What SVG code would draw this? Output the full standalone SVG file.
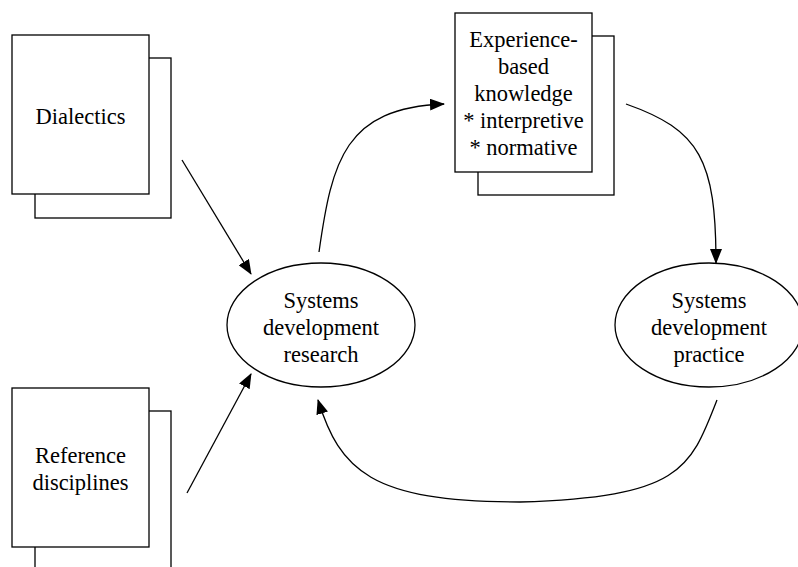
<svg xmlns="http://www.w3.org/2000/svg" width="798" height="567" viewBox="0 0 798 567">
<defs>
<style>
.box{fill:#fff;stroke:#000;stroke-width:1.3}
.ell{fill:#fff;stroke:#000;stroke-width:1.3}
.t{font-family:"Liberation Serif","Times New Roman",serif;font-size:22.5px;fill:#000;text-anchor:middle}
.c{fill:none;stroke:#000;stroke-width:1.3}
</style>
<marker id="ah" viewBox="0 0 15 12" markerWidth="15" markerHeight="12" refX="14" refY="6" orient="auto" markerUnits="userSpaceOnUse">
<path d="M0,0 L15,6 L0,12 z" fill="#000"/>
</marker>
</defs>
<rect width="798" height="567" fill="#fff"/>
<g id="dialectics">
<rect class="box" x="35" y="58" width="136" height="160"/>
<rect class="box" x="12" y="35" width="137" height="159"/>
<text class="t" x="80.5" y="124">Dialectics</text>
</g>
<g id="reference">
<rect class="box" x="35" y="411" width="136" height="170"/>
<rect class="box" x="12" y="388" width="137" height="159"/>
<text class="t" x="80.5" y="463">Reference</text>
<text class="t" x="80.5" y="490">disciplines</text>
</g>
<g id="experience">
<rect class="box" x="478" y="36" width="136" height="159"/>
<rect class="box" x="455" y="13" width="137" height="159"/>
<text class="t" x="523.5" y="47">Experience-</text>
<text class="t" x="523.5" y="74">based</text>
<text class="t" x="523.5" y="101">knowledge</text>
<text class="t" x="523.5" y="128">* interpretive</text>
<text class="t" x="523.5" y="155">* normative</text>
</g>
<g id="research">
<ellipse class="ell" cx="321" cy="325" rx="94" ry="62"/>
<text class="t" x="321" y="308">Systems</text>
<text class="t" x="321" y="335">development</text>
<text class="t" x="321" y="362">research</text>
</g>
<g id="practice">
<ellipse class="ell" cx="709" cy="325" rx="94" ry="62"/>
<text class="t" x="709" y="308">Systems</text>
<text class="t" x="709" y="335">development</text>
<text class="t" x="709" y="362">practice</text>
</g>
<g id="connectors">
<path class="c" d="M182,160 L251,274" marker-end="url(#ah)"/>
<path class="c" d="M187,493 L251,374" marker-end="url(#ah)"/>
<path class="c" d="M319,252 C332,160 345,108 444,104" marker-end="url(#ah)"/>
<path class="c" d="M626,104 C700,130 716,160 716,263" marker-end="url(#ah)"/>
<path class="c" d="M717,400 C690,470 680,497 520,502 C370,502 340,470 318,400" marker-end="url(#ah)"/>
</g>
</svg>
